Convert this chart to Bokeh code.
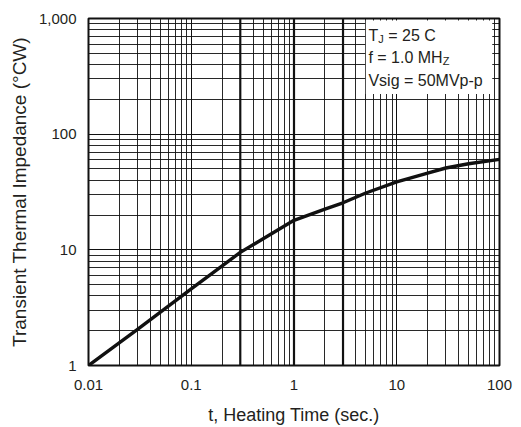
from bokeh.plotting import figure
from bokeh.models import FixedTicker, NumeralTickFormatter, BoxAnnotation, Label, Span
from bokeh.embed import file_html
from bokeh.resources import INLINE

# ---- data ----
heating_time = [0.01, 0.03, 0.1, 0.3, 1, 2, 3, 5, 10, 20, 30, 50, 100]
impedance = [1.0, 2.05, 4.6, 9.5, 18.0, 22.5, 25.5, 31.0, 38.7, 46.0, 51.0, 55.5, 60.5]

x_ticks = [0.01, 0.1, 1, 10, 100]
y_ticks = [1, 10, 100, 1000]
heavy_x_lines = [0.3, 1, 3]

legend_lines = [("T", "J", "= 25 C"), ("f = 1.0 MH", "Z", ""), ("Vsig = 50MVp-p", "", "")]

FONT = "Liberation Sans"
TXT = "#231f20"

x_minor = [m * d for d in x_ticks[:-1] for m in range(2, 10)]
y_minor = [m * d for d in y_ticks[:-1] for m in range(2, 10)]

p = figure(width=516, height=427, x_axis_type="log", y_axis_type="log",
           x_range=(0.01, 100), y_range=(1, 1000),
           output_backend="svg", toolbar_location=None,
           min_border_left=88, min_border_right=17, min_border_top=18, min_border_bottom=60)

p.background_fill_color = "white"
p.border_fill_color = "white"
p.outline_line_color = "#111111"
p.outline_line_width = 2
p.outline_line_alpha = 1

for ax, ticks, minor in ((p.xaxis[0], x_ticks, x_minor), (p.yaxis[0], y_ticks, y_minor)):
    ax.ticker = FixedTicker(ticks=ticks, minor_ticks=minor)
    ax.formatter = NumeralTickFormatter(format="0,0.[00]")
    ax.major_tick_line_color = None
    ax.minor_tick_line_color = None
    ax.axis_line_color = None
    ax.major_label_text_font = FONT
    ax.major_label_text_font_size = "15px"
    ax.major_label_text_color = TXT
    ax.axis_label_text_font = FONT
    ax.axis_label_text_font_style = "normal"
    ax.axis_label_text_color = TXT

p.xaxis.axis_label_text_font_size = "18px"
p.yaxis.axis_label_text_font_size = "19px"
p.xaxis.major_label_standoff = 8
p.yaxis.major_label_standoff = 6
p.xaxis.axis_label = "t, Heating Time (sec.)"
p.yaxis.axis_label = "Transient Thermal Impedance (°CW)"
p.xaxis.axis_label_standoff = 12
p.yaxis.axis_label_standoff = 6

for g in (p.xgrid[0], p.ygrid[0]):
    g.grid_line_color = "#111111"
    g.grid_line_width = 1
    g.grid_line_alpha = 1
    g.minor_grid_line_color = "#111111"
    g.minor_grid_line_width = 1
    g.minor_grid_line_alpha = 0.9

for xv in heavy_x_lines:
    p.add_layout(Span(location=xv, dimension="height", line_color="#111111",
                      line_width=2.2, level="underlay"))

p.line(heating_time, impedance, line_color="#111111", line_width=3.4,
       line_join="round")

# legend box
p.add_layout(BoxAnnotation(left=5, right=85, bottom=222, top=960,
                           fill_color="white", fill_alpha=1, line_color=None))

legend_y = [714, 462, 293]
main_px = 16
sub_offsets = {"T": 9.8, "f = 1.0 MH": 74.3}
for (main, sub, tail), yv in zip(legend_lines, legend_y):
    p.add_layout(Label(x=5.3, y=yv, text=main, text_font=FONT,
                       text_font_size=f"{main_px}px", text_color=TXT,
                       text_baseline="middle"))
    if sub:
        w = sub_offsets[main]
        p.add_layout(Label(x=5.3, y=yv, x_offset=w, y_offset=-4, text=sub,
                           text_font=FONT, text_font_size="11px", text_color=TXT,
                           text_baseline="middle"))
        if tail:
            p.add_layout(Label(x=5.3, y=yv, x_offset=w + 5.5 + 4.5, text=tail,
                               text_font=FONT, text_font_size=f"{main_px}px",
                               text_color=TXT, text_baseline="middle"))

open("out.html", "w").write(file_html(p, INLINE))
